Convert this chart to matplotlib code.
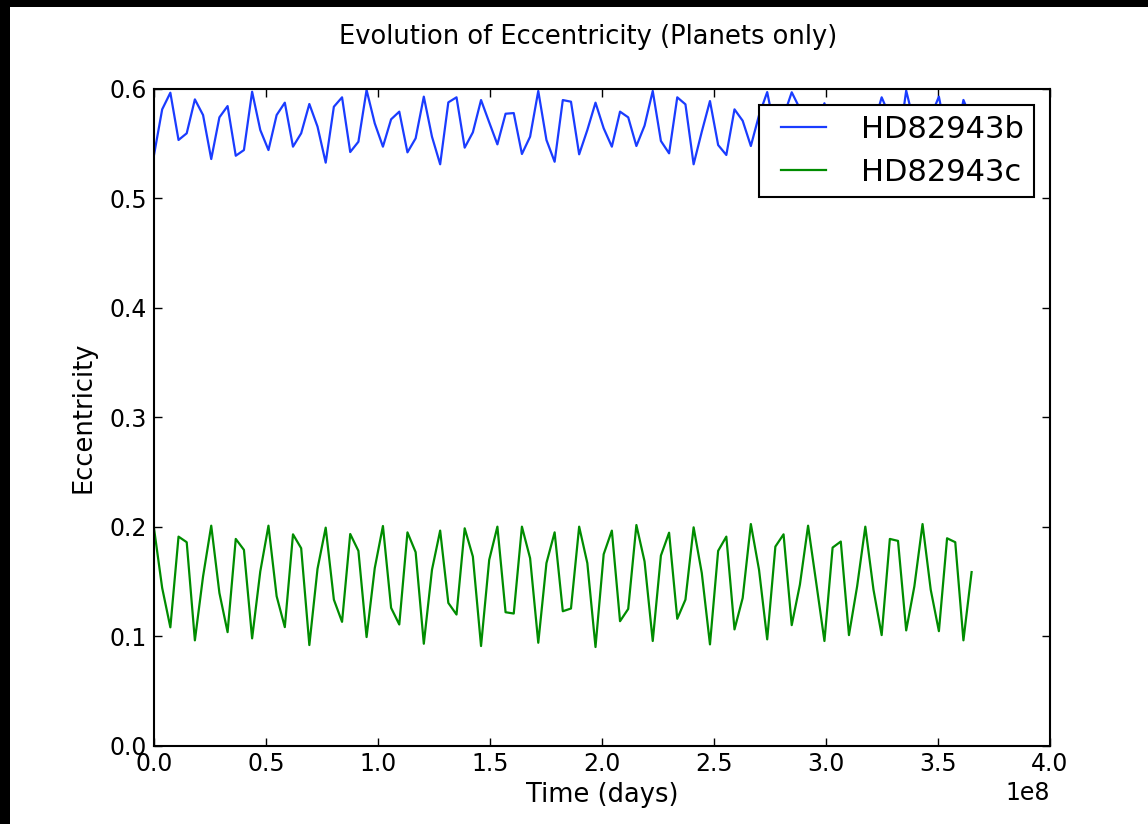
import numpy as np
import matplotlib
matplotlib.use("Agg")
import matplotlib.pyplot as plt
from matplotlib.patches import Rectangle
from matplotlib.lines import Line2D
from matplotlib.legend_handler import HandlerLine2D

# ---- data ----
n_steps = 101
time_step = 3.65e6  # days between samples
time_days = np.arange(n_steps) * time_step

ecc_b = [
    0.5397, 0.5814, 0.5966, 0.5534, 0.5595, 0.5905, 0.5762, 0.5360, 0.5741, 0.5844,
    0.5390, 0.5442, 0.5975, 0.5625, 0.5442, 0.5762, 0.5875, 0.5473, 0.5595, 0.5863,
    0.5656, 0.5327, 0.5838, 0.5924, 0.5424, 0.5518, 0.5991, 0.5686, 0.5473, 0.5723,
    0.5793, 0.5421, 0.5549, 0.5930, 0.5564, 0.5312, 0.5878, 0.5924, 0.5464, 0.5604,
    0.5899, 0.5695, 0.5494, 0.5774, 0.5780, 0.5406, 0.5564, 0.5982, 0.5534, 0.5335,
    0.5899, 0.5884, 0.5403, 0.5625, 0.5875, 0.5641, 0.5473, 0.5793, 0.5741, 0.5479,
    0.5665, 0.5982, 0.5525, 0.5412, 0.5924, 0.5860, 0.5312, 0.5610, 0.5890, 0.5488,
    0.5397, 0.5814, 0.5710, 0.5479, 0.5760, 0.5972, 0.5600, 0.5750, 0.5970, 0.5820,
    0.5480, 0.5650, 0.5870, 0.5600, 0.5410, 0.5720, 0.5800, 0.5450, 0.5660, 0.5924,
    0.5750, 0.5450, 0.5985, 0.5680, 0.5500, 0.5750, 0.5930, 0.5550, 0.5480, 0.5900,
    0.5720,
]

ecc_c = [
    0.1985, 0.1440, 0.1080, 0.1909, 0.1858, 0.0961, 0.1545, 0.2009, 0.1394, 0.1036,
    0.1888, 0.1788, 0.0979, 0.1591, 0.2009, 0.1364, 0.1082, 0.1930, 0.1803, 0.0918,
    0.1615, 0.1991, 0.1333, 0.1130, 0.1933, 0.1779, 0.0991, 0.1621, 0.2006, 0.1258,
    0.1106, 0.1948, 0.1767, 0.0930, 0.1606, 0.1964, 0.1303, 0.1197, 0.1985, 0.1727,
    0.0909, 0.1697, 0.2000, 0.1218, 0.1206, 0.2000, 0.1712, 0.0939, 0.1667, 0.1948,
    0.1227, 0.1252, 0.2000, 0.1667, 0.0900, 0.1748, 0.1964, 0.1136, 0.1248, 0.2015,
    0.1682, 0.0955, 0.1736, 0.1945, 0.1158, 0.1333, 0.1994, 0.1576, 0.0924, 0.1779,
    0.1909, 0.1061, 0.1348, 0.2024, 0.1606, 0.0970, 0.1818, 0.1930, 0.1100, 0.1470,
    0.2009, 0.1485, 0.0955, 0.1809, 0.1864, 0.1009, 0.1455, 0.2000, 0.1424, 0.1009,
    0.1888, 0.1870, 0.1052, 0.1455, 0.2024, 0.1424, 0.1045, 0.1894, 0.1858, 0.0961,
    0.1585,
]

labels = ["HD82943b", "HD82943c"]
colors = ["#1a3cff", "#008c00"]
title = "Evolution of Eccentricity (Planets only)"
xlabel = "Time (days)"
ylabel = "Eccentricity"
xticks = [0.0, 0.5e8, 1.0e8, 1.5e8, 2.0e8, 2.5e8, 3.0e8, 3.5e8, 4.0e8]
yticks = [0.0, 0.1, 0.2, 0.3, 0.4, 0.5, 0.6]

# ---- figure ----
W, H = 1148, 824
fig = plt.figure(figsize=(W / 100, H / 100), dpi=100)
fig.patch.set_facecolor("black")
fig.add_artist(Rectangle((10 / W, 0), 1 - 10 / W, 1 - 7 / H,
                         transform=fig.transFigure, facecolor="white",
                         edgecolor="none", zorder=-10))

left, right, top, bottom = 154, 1050, 89, 745.5
ax = fig.add_axes([left / W, 1 - bottom / H, (right - left) / W, (bottom - top) / H])
ax.set_facecolor("white")

ax.plot(time_days, ecc_b, color=colors[0], lw=1.6, label=labels[0])
ax.plot(time_days, ecc_c, color=colors[1], lw=1.6, label=labels[1])

ax.set_xlim(0, 4.0e8)
ax.set_ylim(0, 0.6)
ax.set_xticks(xticks)
ax.set_yticks(yticks)
ax.yaxis.set_major_formatter(matplotlib.ticker.FormatStrFormatter("%.1f"))
fmt = matplotlib.ticker.ScalarFormatter(useOffset=False)
ax.xaxis.set_major_formatter(fmt)
ax.ticklabel_format(axis="x", style="sci", scilimits=(0, 0))
ax.xaxis.get_offset_text().set_fontsize(17)

for s in ax.spines.values():
    s.set_linewidth(1.5)
ax.tick_params(direction="in", length=6, width=1, labelsize=17, pad=5,
               top=True, right=True)

# title is centred on the figure (not the axes) in the reference
ax.set_title(title, fontsize=18.5, pad=32.5, x=(588.5 - left) / (right - left))
ax.set_xlabel(xlabel, fontsize=18.5, labelpad=4)
ax.set_ylabel(ylabel, fontsize=18.5, labelpad=9)

leg = ax.legend(loc="upper right", bbox_to_anchor=(1034 / W, 1 - 105 / H),
                bbox_transform=fig.transFigure, borderaxespad=0,
                fontsize=22, fancybox=False, framealpha=1, edgecolor="black",
                numpoints=2,
                handler_map={Line2D: HandlerLine2D(marker_pad=0.39)},
                handlelength=2.25, handletextpad=0.75, borderpad=0.33,
                labelspacing=0.44)
leg.get_frame().set_linewidth(1.5)

fig.savefig("out.png", dpi=100, facecolor=fig.get_facecolor())
